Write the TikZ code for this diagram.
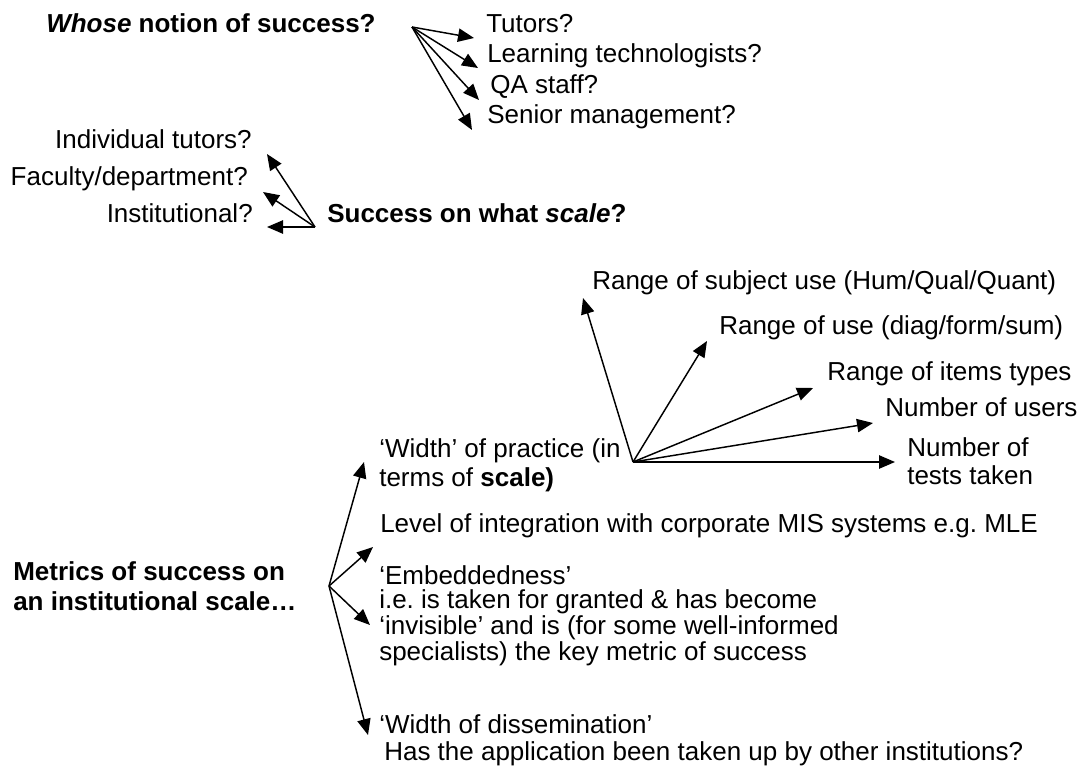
\documentclass[tikz,border=0pt]{standalone}
\usepackage{fontspec}
\setmainfont{Liberation Sans}
\usetikzlibrary{arrows.meta}
\frenchspacing
\begin{document}
\begin{tikzpicture}[x=0.75pt,y=-0.75pt,
  lbl/.style={inner sep=0pt, align=left, font=\fontsize{19.5}{22}\selectfont},
  sk/.style={font=\fontsize{19.5}{#1}\selectfont},
  arr/.style={line width=1.1pt, -{Triangle[length=12pt,width=10pt]}}]
\useasboundingbox (0,0) rectangle (1080,771);
% --- Whose notion of success
\node[lbl,anchor=base west] (whose) at (46,32) {\textbf{\textit{Whose} notion of success?}};
\node[lbl,anchor=base west] (tutors) at (486,32) {Tutors?};
\node[lbl,anchor=base west] (learn) at (487,62) {Learning technologists?};
\node[lbl,anchor=base west] (qa) at (490,93) {QA staff?};
\node[lbl,anchor=base west] (senior) at (487,123) {Senior management?};
\coordinate (a0) at (412,27);
\coordinate (a1) at (474,38);
\coordinate (a2) at (478,68);
\coordinate (a3) at (479,100);
\coordinate (a4) at (472,130);
\foreach \t in {a1,a2,a3,a4} \draw[arr] (a0) -- (\t);
% --- Success on what scale
\node[lbl,anchor=base east] (indiv) at (252,148) {Individual tutors?};
\node[lbl,anchor=base east] (fac) at (248,185) {Faculty/department?};
\node[lbl,anchor=base east] (inst) at (253,222) {Institutional?};
\node[lbl,anchor=base west] (scale) at (327,222) {\textbf{Success on what \textit{scale}?}};
\coordinate (b0) at (315,227);
\coordinate (b1) at (267,154);
\coordinate (b2) at (263,192);
\coordinate (b3) at (267,227);
\foreach \t in {b1,b2,b3} \draw[arr] (b0) -- (\t);
% --- Width of practice fan
\node[lbl,anchor=base west] (subj) at (592,289) {Range of subject use (Hum/Qual/Quant)};
\node[lbl,anchor=base west] (use) at (719,334) {Range of use (diag/form/sum)};
\node[lbl,anchor=base west] (items) at (827,380) {Range of items types};
\node[lbl,anchor=base west] (users) at (885,416) {Number of users};
\node[lbl,sk=21,anchor=base west] (tests) at (907,484) {Number of\\tests taken};
\node[lbl,sk=21.75,anchor=base west] (width) at (379,486) {‘Width’ of practice (in\\terms of \textbf{scale)}};
\coordinate (c0) at (633,462);
\coordinate (c1) at (583,298);
\coordinate (c2) at (707,341);
\coordinate (c3) at (813,388);
\coordinate (c4) at (873,423);
\coordinate (c5) at (895,462);
\foreach \t in {c1,c2,c3,c4,c5} \draw[arr] (c0) -- (\t);
% --- Metrics
\node[lbl,sk=22.5,anchor=base west] (metrics) at (13,610) {\textbf{Metrics of success on}\\\textbf{an institutional scale…}};
\node[lbl,anchor=base west] (level) at (380,532) {Level of integration with corporate MIS systems e.g. MLE};
\node[lbl,sk=18,anchor=base west] (embed) at (379,660) {‘Embeddedness’\\i.e. is taken for granted \& has become\\‘invisible’ and is (for some well-informed\\specialists) the key metric of success};
\node[lbl,sk=20.25,anchor=base west] (dissem) at (379,760) {‘Width of dissemination’\\\hspace*{3.75pt}Has the application been taken up by other institutions?};
\coordinate (d0) at (329,586);
\coordinate (d1) at (364,462);
\coordinate (d2) at (373,547);
\coordinate (d3) at (370,625);
\coordinate (d4) at (368,735);
\foreach \t in {d1,d2,d3,d4} \draw[arr] (d0) -- (\t);
\end{tikzpicture}
\end{document}
